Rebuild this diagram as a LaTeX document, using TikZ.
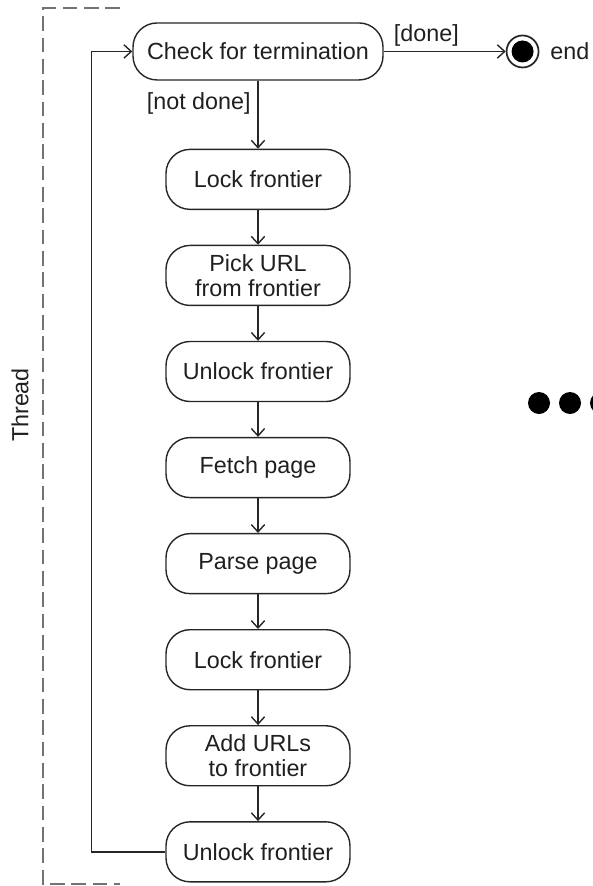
\documentclass[tikz,border=0pt]{standalone}
\usepackage{fontspec}
\setmainfont{Liberation Sans}
\usepackage{tikz}
\usetikzlibrary{arrows.meta, positioning, calc}

\begin{document}
\begin{tikzpicture}[
    node distance=26pt,
    act/.style={draw=black!85, rounded corners=18pt, align=center, line width=1.05pt,
                minimum width=138pt, minimum height=45pt, inner sep=2pt,
                font=\fontsize{17.5}{19}\selectfont, text=black!88},
    lbl/.style={font=\fontsize{17.5}{19}\selectfont, text=black!88, inner sep=3pt},
    ar/.style={-{Straight Barb[length=5.5pt,width=10pt]}, line width=1.05pt, draw=black!85},
    frame/.style={draw=black!55, line width=1.5pt, dash pattern=on 11pt off 5pt},
]
\useasboundingbox (0,0) rectangle (444.75pt,-664.5pt);
\clip (0,0) rectangle (444.75pt,-664.5pt);
% thread swimlane (cut off at the right)
\draw[frame] (90pt,-6pt) -- (32.25pt,-6pt) -- (32.25pt,-663pt) -- (90pt,-663pt);
\node[lbl, rotate=90] (thr) at (15pt,-303.75pt) {Thread};

\node[act, minimum width=187.5pt, minimum height=42.75pt] (chk) at (193.5pt,-38.6pt) {Check for termination};
\node[act, below=51pt of chk] (lk1) {Lock frontier};
\node[act, below=of lk1] (pick) {Pick URL\\from frontier};
\node[act, below=of pick] (ul1) {Unlock frontier};
\node[act, below=of ul1] (fetch) {Fetch page};
\node[act, below=of fetch] (parse) {Parse page};
\node[act, below=of parse] (lk2) {Lock frontier};
\node[act, below=of lk2] (add) {Add URLs\\to frontier};
\node[act, below=of add] (ul2) {Unlock frontier};

% final state
\node[circle, draw=black!85, line width=1.3pt, minimum size=24pt, inner sep=0pt,
      right=91.5pt of chk] (fin) {};
\node[circle, fill=black, minimum size=16.5pt, inner sep=0pt] (finDot) at (fin) {};
\node[lbl, right=5pt of fin] (finLbl) {end};

\draw[ar] (chk) -- (fin) node[lbl, pos=0.35, above] {[done]};
\draw[ar] (chk) -- (lk1) node[lbl, pos=0.34, left, inner sep=5pt] {[not done]};
\draw[ar] (lk1) -- (pick); \draw[ar] (pick) -- (ul1); \draw[ar] (ul1) -- (fetch);
\draw[ar] (fetch) -- (parse); \draw[ar] (parse) -- (lk2); \draw[ar] (lk2) -- (add);
\draw[ar] (add) -- (ul2);
% back to the check
\draw[ar] (ul2.west) -- ++(-55.5pt,0) |- (chk.west);

% other threads
\foreach \i/\x in {1/404.25, 2/427.5, 3/450.75}
  \node[circle, fill=black, minimum size=16.5pt, inner sep=0pt] (dot\i) at (\x pt,-302.25pt) {};
\end{tikzpicture}
\end{document}
